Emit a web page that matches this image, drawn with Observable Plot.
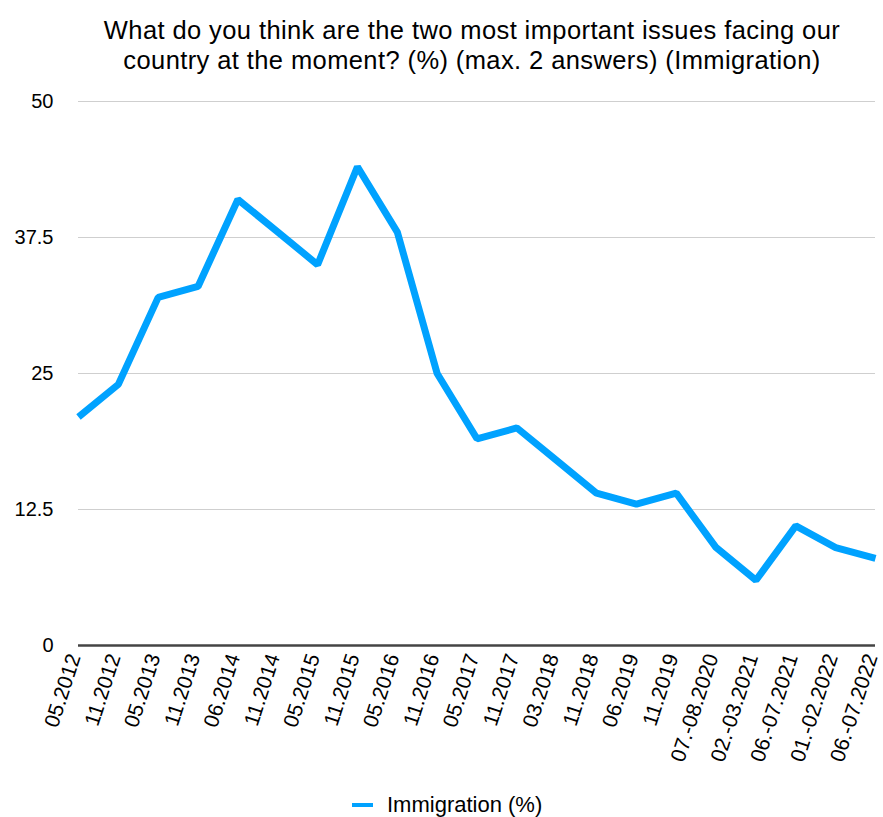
<!DOCTYPE html>
<html>
<head>
<meta charset="utf-8">
<script src="https://cdn.jsdelivr.net/npm/d3@7"></script>
<script src="https://cdn.jsdelivr.net/npm/@observablehq/plot@0.6"></script>
<style>
  body { margin: 0; background: #fff; font-family: "Liberation Sans", Arial, Helvetica, sans-serif; }
  #wrap { width: 883px; }
  .title { box-sizing: border-box; width: 883px; text-align: center; font-size: 25.5px; letter-spacing: 0.4px; line-height: 30px; color: #000; padding-top: 15px; height: 85px; margin: 0; padding-left: 61px; white-space: nowrap; }
  .legend { position: relative; height: 37px; font-size: 22px; line-height: 26px; color: #000; }
  .legend .sw { position: absolute; left: 352px; top: 23px; width: 21px; height: 4px; background: #00a2ff; }
  .legend .lb { position: absolute; left: 387px; top: 12px; }
</style>
</head>
<body>
<div id="wrap">
  <div class="title">What do you think are the two most important issues facing our<br>country at the moment? (%) (max. 2 answers) (Immigration)</div>
  <div id="chart"></div>
  <div class="legend"><span class="sw"></span><span class="lb">Immigration (%)</span></div>
</div>
<script>
// Survey waves
const waves = [
  "05.2012", "11.2012", "05.2013", "11.2013", "06.2014", "11.2014", "05.2015",
  "11.2015", "05.2016", "11.2016", "05.2017", "11.2017", "03.2018", "11.2018",
  "06.2019", "11.2019", "07.-08.2020", "02.-03.2021", "06.-07.2021",
  "01.-02.2022", "06.-07.2022"
];
// Share naming immigration as one of the two most important issues (%)
const immigration = [21, 24, 32, 33, 41, 38, 35, 44, 38, 25, 19, 20, 17, 14, 13, 14, 9, 6, 11, 9, 8];
const yTicks = [0, 12.5, 25, 37.5, 50];

const data = waves.map((w, i) => ({wave: w, value: immigration[i]}));

const chart = Plot.plot({
  width: 883,
  height: 695,
  marginLeft: 78,
  marginRight: 8,
  marginTop: 16,
  marginBottom: 135,
  style: {fontFamily: "'Liberation Sans', Arial, Helvetica, sans-serif", fontSize: "20px", color: "#000", background: "#fff", overflow: "visible"},
  x: {type: "point", domain: waves, range: [78, 875], padding: 0, round: false, label: null},
  y: {domain: [0, 50], label: null},
  marks: [
    Plot.gridY(yTicks, {stroke: "#cfcfcf", strokeOpacity: 1, strokeWidth: 1}),
    Plot.axisY(yTicks, {tickSize: 0, tickPadding: 25, textAnchor: "end", fontSize: 20, label: null, tickFormat: d => String(d)}),
    Plot.axisX({tickSize: 0, tickPadding: 9, tickRotate: -72, fontSize: 21, dx: -4, label: null}),
    Plot.ruleY([0], {stroke: "#444", strokeWidth: 2.5}),
    Plot.line(data, {x: "wave", y: "value", stroke: "#00a2ff", strokeWidth: 7, strokeLinejoin: "miter", strokeLinecap: "butt"})
  ]
});
document.getElementById("chart").appendChild(chart);
</script>
</body>
</html>
